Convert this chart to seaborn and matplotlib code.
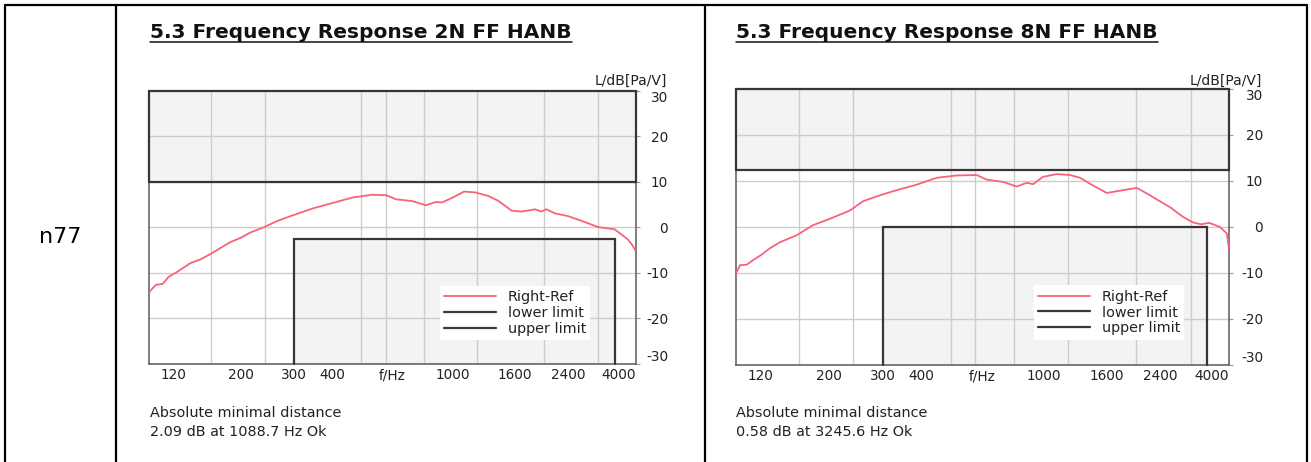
import numpy as np
import pandas as pd
import matplotlib
matplotlib.use("Agg")
import matplotlib.pyplot as plt
from matplotlib.lines import Line2D
import seaborn as sns

# ---------------- data ----------------
row_label = "n77"
titles = ["5.3 Frequency Response 2N FF HANB", "5.3 Frequency Response 8N FF HANB"]
note_head = "Absolute minimal distance"
notes = ["2.09 dB at 1088.7 Hz Ok", "0.58 dB at 3245.6 Hz Ok"]
y_unit = "L/dB[Pa/V]"

freq_2n = [100, 105.4, 110.9, 116.2, 124.1, 137.1, 147.9, 161.5, 175.8, 185.4, 199.9,
           215.5, 237.6, 263.5, 297.7, 346, 402.5, 467.8, 543.6, 602.7, 649.9, 734.5,
           814.4, 877.9, 920.5, 992.5, 1088.7, 1186, 1311, 1414, 1559, 1681, 1863, 1953,
           2028, 2166, 2393, 2714, 3000, 3404, 3759, 3900, 4000]
level_2n = [-14.2, -12.6, -12.4, -10.8, -9.7, -7.8, -7.0, -5.6, -4.1, -3.2, -2.3,
            -1.1, 0.0, 1.4, 2.7, 4.2, 5.4, 6.6, 7.2, 7.1, 6.2, 5.8,
            4.9, 5.6, 5.5, 6.5, 7.9, 7.7, 6.9, 5.8, 3.7, 3.5, 4.0, 3.5,
            4.0, 3.1, 2.5, 1.2, 0.1, -0.4, -2.6, -4.0, -5.3]

freq_8n = [100, 103, 108.3, 113.6, 121.2, 129, 139, 157.4, 177.9, 202.1, 234.7, 258.7,
           293.8, 332.7, 386.5, 449, 521.6, 605.8, 652.8, 737.6, 817.4, 880.6, 923.5,
           994.7, 1102, 1217, 1312, 1414, 1602, 1810, 2005, 2162, 2330, 2573, 2835, 3055,
           3245.6, 3450, 3741, 3935, 4000]
level_8n = [-10.1, -8.3, -8.2, -7.2, -6.0, -4.6, -3.3, -1.8, 0.4, 1.8, 3.6, 5.6,
            6.9, 8.0, 9.2, 10.7, 11.2, 11.3, 10.3, 9.8, 8.8, 9.6, 9.3,
            10.9, 11.5, 11.3, 10.7, 9.4, 7.4, 8.0, 8.5, 7.3, 6.0, 4.3, 2.2, 1.0,
            0.58, 0.9, 0.0, -1.4, -4.7]

upper_limit = [10.0, 12.3]
lower_limit = [-2.6, 0.0]
upper_span = [100, 4000]
lower_span = [300, 3400]

tick_freqs = [120, 200, 300, 400, 630, 1000, 1600, 2400, 4000]
tick_labels = ["120", "200", "300", "400", "f/Hz", "1000", "1600", "2400", "4000"]
grid_freqs = [120, 160, 200, 240, 300, 400, 500, 600, 800, 1000, 1200, 1600, 2000, 2400, 3000]
level_ticks = [30, 20, 10, 0, -10, -20, -30]
legend_labels = ["Right-Ref", "lower limit", "upper limit"]

# ---------------- style ----------------
sns.set_style("white")
plt.rcParams["font.family"] = ["DejaVu Sans"]

W, H = 1311, 462
def fx(px):
    return px / W
def fy(py):
    return 1 - py / H

CURVE = "#f7637c"
EDGE = "#363636"
FILL = "#f3f3f3"
GRID = "#cdcdcd"
FRAME = "#5a5a5a"
TXT = "#222222"

fig = plt.figure(figsize=(W / 100, H / 100), dpi=100)
fig.patch.set_facecolor("white")

# axes geometry in pixels: left, right, top(30 dB), bottom(-30 dB)
geoms = [(149, 636, 91, 364), (736, 1229, 89, 365)]
datasets = [(freq_2n, level_2n), (freq_8n, level_8n)]
label_right = [667, 1262]
legend_centers = [(515, 313), (1109, 312.5)]
title_x = [150, 736]

title_texts = []
for i, ((l, r, t, b), (fr, lv)) in enumerate(zip(geoms, datasets)):
    ax = fig.add_axes([fx(l), fy(b), (r - l) / W, (b - t) / H])
    ax.set_facecolor("white")
    ax.set_xscale("log")
    ax.set_axisbelow(True)

    up = upper_limit[i]
    lo = lower_limit[i]
    # shaded limit areas
    ax.fill_between(upper_span, [up, up], [30, 30], color=FILL, lw=0, zorder=0.2)
    ax.fill_between(lower_span, [-30, -30], [lo, lo], color=FILL, lw=0, zorder=0.2)

    df = pd.DataFrame({"f": fr, "L": lv})
    sns.lineplot(data=df, x="f", y="L", ax=ax, color=CURVE, lw=1.3,
                 sort=False, estimator=None, label=legend_labels[0], zorder=4)
    # limit outlines
    ax.plot([lower_span[0], lower_span[0], lower_span[1], lower_span[1]],
            [-30, lo, lo, -30], color=EDGE, lw=1.6, label=legend_labels[1],
            zorder=3, clip_on=False, solid_joinstyle="miter")
    ax.plot([upper_span[0], upper_span[0], upper_span[1], upper_span[1], upper_span[0]],
            [up, 30, 30, up, up], color=EDGE, lw=1.6, label=legend_labels[2],
            zorder=3, clip_on=False, solid_joinstyle="miter")

    ax.set_xlim(upper_span[0], upper_span[1])
    ax.set_ylim(-30, 30)

    # grid
    ax.set_xticks(grid_freqs, minor=True)
    ax.set_xticks(tick_freqs)
    ax.set_xticklabels(tick_labels)
    ax.grid(False)
    ax.grid(which="minor", axis="x", color=GRID, lw=1.0)
    ax.set_yticks(level_ticks)
    ax.grid(which="major", axis="y", color=GRID, lw=1.0)
    ax.tick_params(axis="x", which="both", length=0, pad=3, labelsize=9.8, colors=TXT)
    ax.xaxis.set_minor_formatter(matplotlib.ticker.NullFormatter())

    ax.yaxis.tick_right()
    ax.set_yticklabels([str(v) for v in level_ticks])
    pad_px = label_right[i] - r - 3
    ax.tick_params(axis="y", length=3, width=0.8, color="#9a9a9a",
                   pad=pad_px * 0.72, labelsize=9.8, labelcolor=TXT)
    for tk in ax.yaxis.get_major_ticks():
        tk.label2.set_horizontalalignment("right")
    ticks = ax.yaxis.get_major_ticks()
    ticks[0].label2.set_verticalalignment("top")
    ticks[-1].label2.set_verticalalignment("bottom")

    xl = ax.get_xticklabels()
    xl[-1].set_horizontalalignment("right")

    ax.set_xlabel("")
    ax.set_ylabel("")
    for s in ["left", "bottom", "right"]:
        ax.spines[s].set_color(FRAME)
        ax.spines[s].set_linewidth(1.1)
    ax.spines["top"].set_visible(False)

    cx, cy = legend_centers[i]
    leg = ax.legend(loc="center", bbox_to_anchor=(fx(cx), fy(cy)),
                    bbox_transform=fig.transFigure, fontsize=10.4, frameon=True,
                    facecolor="white", edgecolor="none", framealpha=1,
                    handlelength=3.6, handletextpad=0.8, labelspacing=0.13,
                    borderpad=0.3, fancybox=False)
    for txt in leg.get_texts():
        txt.set_color(TXT)
    leg.set_zorder(5)

    fig.text(fx(label_right[i]), fy(81), y_unit, ha="right", va="center",
             fontsize=10, color=TXT)
    t = fig.text(fx(title_x[i]), fy(32), titles[i], ha="left", va="center",
                 fontsize=14.5, fontweight="bold", color="#111111")
    title_texts.append(t)
    fig.text(fx(title_x[i]), fy(413), note_head, ha="left", va="center",
             fontsize=10.4, color=TXT)
    fig.text(fx(title_x[i]), fy(432), notes[i], ha="left", va="center",
             fontsize=10.4, color=TXT)

# row label
fig.text(fx(60), fy(237), row_label, ha="center", va="center", fontsize=16, color="black")

# table rules
for xs, ys in [([5, 1307], [5, 5]), ([5, 5], [5, 462]), ([116, 116], [5, 462]),
               ([705, 705], [5, 462]), ([1307, 1307], [5, 462])]:
    fig.add_artist(Line2D([fx(v) for v in xs], [fy(v) for v in ys],
                          color="black", lw=1.6))

# title underline
fig.canvas.draw()
rend = fig.canvas.get_renderer()
for t in title_texts:
    bb = t.get_window_extent(rend)
    fig.add_artist(Line2D([bb.x0 / W, bb.x1 / W], [fy(41.5), fy(41.5)],
                          color="#111111", lw=1.1))

fig.savefig("out.png", dpi=100)
